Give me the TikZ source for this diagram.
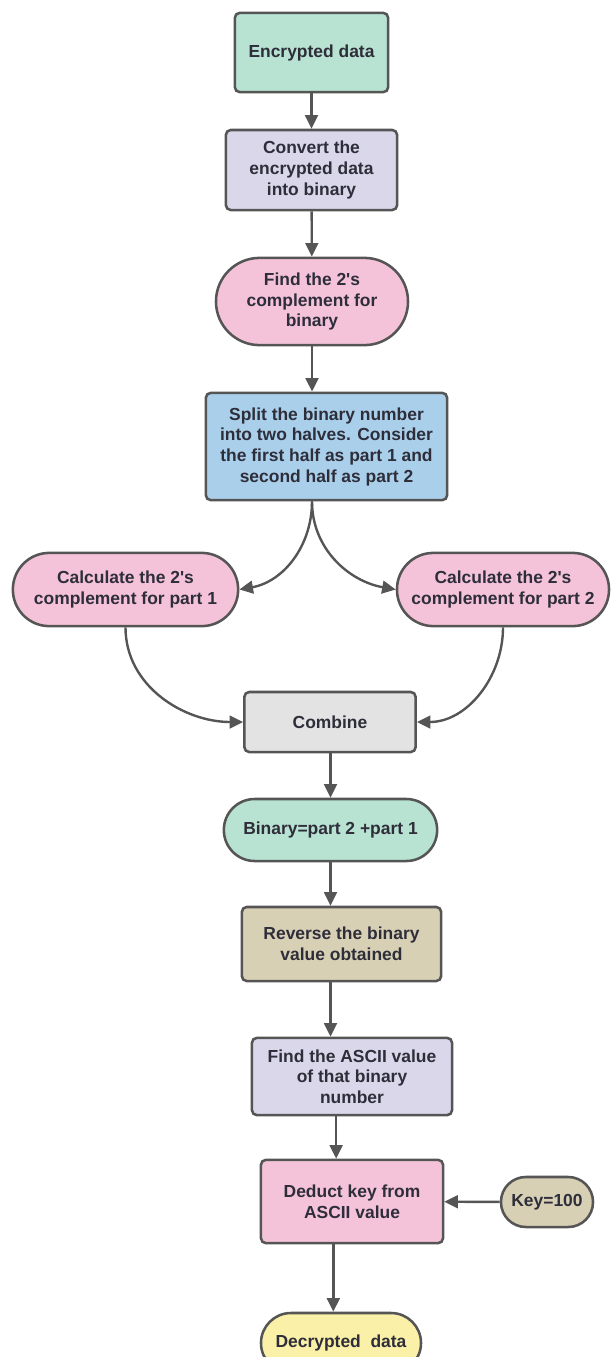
\documentclass[tikz,border=0pt]{standalone}
\usepackage{fontspec}
\setmainfont{Liberation Sans}
\usetikzlibrary{arrows.meta}

\definecolor{boxgreen}{HTML}{B8E2D1}
\definecolor{boxlilac}{HTML}{D9D7E9}
\definecolor{boxpink}{HTML}{F5C3D9}
\definecolor{boxblue}{HTML}{AACFEB}
\definecolor{boxgrey}{HTML}{E3E3E3}
\definecolor{boxkhaki}{HTML}{D8D0B5}
\definecolor{boxyellow}{HTML}{FBF0A8}
\definecolor{edgegrey}{HTML}{555555}
\definecolor{inkdark}{HTML}{2E2E3A}

\tikzset{
  box/.style={rectangle, draw=edgegrey, line width=1.8pt, rounded corners=0.12cm,
    align=center, inner sep=0pt, text=inkdark,
    font=\bfseries\fontsize{12.4}{14.7}\selectfont},
  pill/.style={box, rounded corners=#1},
  flow/.style={draw=edgegrey, line width=1.7pt, -{Triangle[length=3.4mm,width=3.2mm]}}
}

\begin{document}
\begin{tikzpicture}[x=0.025cm, y=-0.025cm, every edge/.style={flow}]
\useasboundingbox (0,0) rectangle (611,1357);
\node[box, fill=boxgreen, minimum width=3.83cm, minimum height=1.98cm] (enc) at (311.5,52.5) {Encrypted data};
\node[box, fill=boxlilac, minimum width=4.28cm, minimum height=2cm] (conv) at (311.5,170) {Convert the\\encrypted data\\into binary};
\node[pill=1.09cm, fill=boxpink, minimum width=4.8cm, minimum height=2.18cm] (find) at (312,301.5) {Find the 2\textquotesingle s\\complement for\\binary};
\node[box, fill=boxblue, minimum width=6.03cm, minimum height=2.68cm] (split) at (326.5,446.5) {Split the binary number\\into two halves. Consider\\the first half as part 1 and\\second half as part 2};
\node[pill=0.91cm, fill=boxpink, minimum width=5.63cm, minimum height=1.83cm] (calc1) at (125.5,589.5) {Calculate the 2\textquotesingle s\\complement for part 1};
\node[pill=0.91cm, fill=boxpink, minimum width=5.3cm, minimum height=1.83cm] (calc2) at (503,589.5) {Calculate the 2\textquotesingle s\\complement for part 2};
\node[box, fill=boxgrey, minimum width=4.28cm, minimum height=1.5cm] (comb) at (330,722) {Combine};
\node[pill=0.77cm, fill=boxgreen, minimum width=5.33cm, minimum height=1.55cm] (bin) at (330.5,830) {Binary=part 2 +part 1};
\node[box, fill=boxkhaki, minimum width=4.98cm, minimum height=1.85cm] (rev) at (341.5,944) {Reverse the binary\\value obtained};
\node[box, fill=boxlilac, minimum width=5cm, minimum height=1.93cm] (asc) at (352,1076.5) {Find the ASCII value\\of that binary\\number};
\node[box, fill=boxpink, minimum width=4.55cm, minimum height=2.08cm] (ded) at (352,1201.5) {Deduct key from\\ASCII value};
\node[pill=0.62cm, fill=boxkhaki, minimum width=2.3cm, minimum height=1.25cm] (key) at (547,1202) {Key=100};
\node[pill=0.75cm, fill=boxyellow, minimum width=4cm, minimum height=1.5cm] (dec) at (341,1343) {Decrypted \ data};
\path
  (enc) edge (conv)
  (conv) edge (find)
  (find.south) edge (find.south |- split.north)
  (split.south -| find.south) edge[out=-90, in=10] (calc1.east)
  (split.south -| find.south) edge[out=-90, in=170] (calc2.west)
  (calc1.south) edge[out=-90, in=180] (comb.west)
  (calc2.south) edge[out=-90, in=0] (comb.east)
  (comb.south -| bin.south) edge (bin)
  (bin.south) edge (bin.south |- rev.north)
  (rev.south -| bin.south) edge (asc.north -| bin.south)
  ([xshift=4pt]asc.south -| bin.south) edge ([xshift=4pt]ded.north -| bin.south)
  ([xshift=2pt]ded.south -| bin.south) edge ([xshift=2pt]dec.north -| bin.south)
  (key) edge (ded)
;
\end{tikzpicture}
\end{document}
